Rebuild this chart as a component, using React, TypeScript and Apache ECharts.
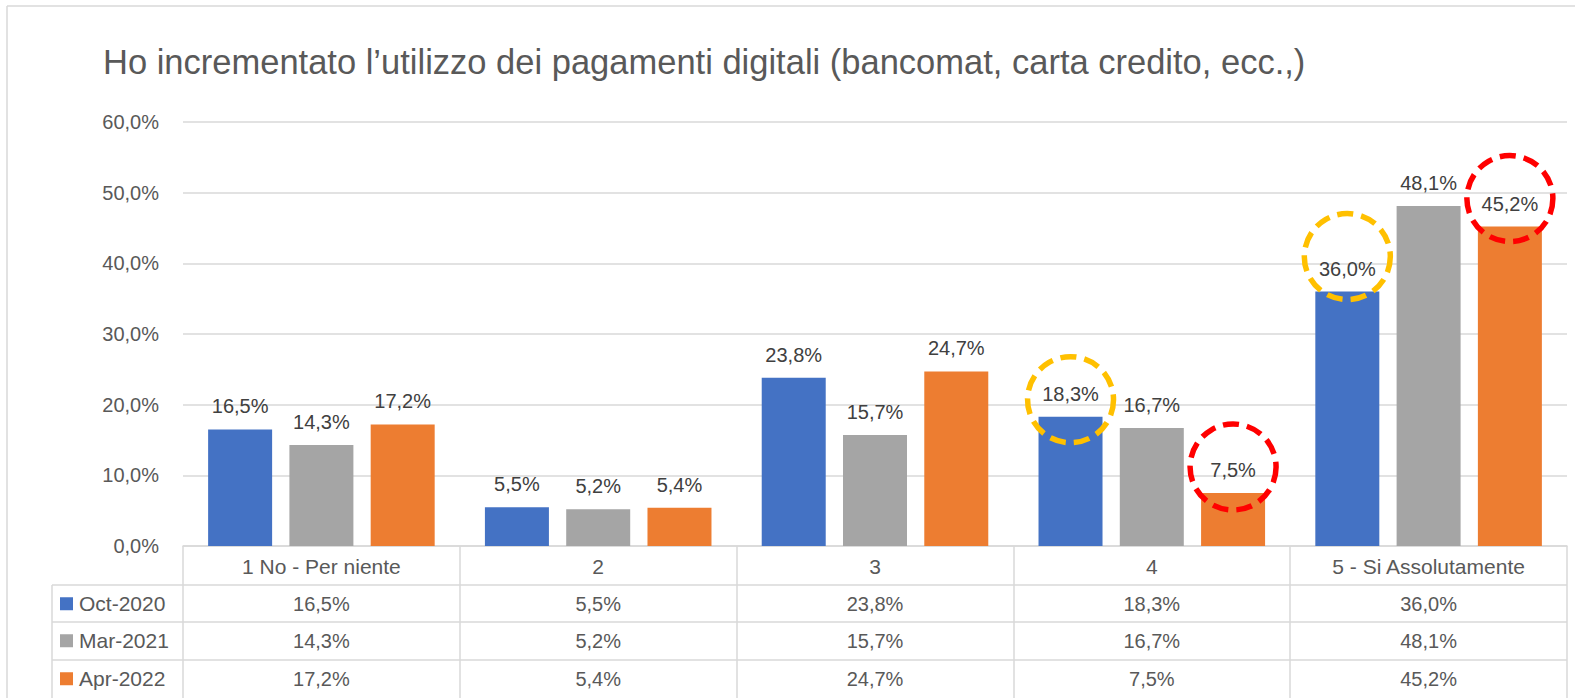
import React, { useEffect, useRef } from "react";
import * as echarts from "echarts";

const categories = ["1 No - Per niente", "2", "3", "4", "5 - Si Assolutamente"];
const seriesNames = ["Oct-2020", "Mar-2021", "Apr-2022"];
const oct2020 = [16.5, 5.5, 23.8, 18.3, 36.0];
const mar2021 = [14.3, 5.2, 15.7, 16.7, 48.1];
const apr2022 = [17.2, 5.4, 24.7, 7.5, 45.2];
const yTicks = [0, 10, 20, 30, 40, 50, 60];
const highlightYellow = ["4", "5 - Si Assolutamente"]; // Oct-2020
const highlightRed = ["4", "5 - Si Assolutamente"]; // Apr-2022

// pixel offsets of the hand-drawn circles above their bar tops (styling only)
const yellowOffsets = [-17, -35];
const redOffsets = [-26, -28];

const TITLE = "Ho incrementato l\u2019utilizzo dei pagamenti digitali (bancomat, carta credito, ecc.,)";
const colors = ["#4472C4", "#A5A5A5", "#ED7D31"];
const FONT = "'Liberation Sans', Arial, sans-serif";
const GRID_LEFT = 183;
const GRID_RIGHT = 8;
const GRID_TOP = 122;
const GRID_BOTTOM = 152;
const W = 1575;
const H = 698;
const LINE = "#D9D9D9";
const TXT = "#595959";

const fmt = (v: number) => v.toFixed(1).replace(".", ",") + "%";

export default function App() {
  const ref = useRef<HTMLDivElement>(null);
  useEffect(() => {
    if (!ref.current) return;
    const chart = echarts.init(ref.current, undefined, { renderer: "svg" });
    const values = [oct2020, mar2021, apr2022];
    const marks: (string[] | null)[] = [highlightYellow, null, highlightRed];
    const markOffsets: (number[] | null)[] = [yellowOffsets, null, redOffsets];
    const markColors = ["#FFC000", null, "#FF0000"];

    const series = values.map((vals, i) => {
      const m = marks[i];
      const s: any = {
        type: "bar",
        name: seriesNames[i],
        data: vals,
        barWidth: 64,
        barGap: "27%",
        itemStyle: { color: colors[i] },
        label: {
          show: true,
          position: "top",
          distance: 13,
          formatter: (p: any) => fmt(p.value),
          fontFamily: FONT,
          fontSize: 20,
          color: "#404040",
        },
      };
      if (m) {
        const offs = markOffsets[i] as number[];
        s.markPoint = {
          symbol: "circle",
          symbolSize: 86,
          silent: true,
          label: { show: false },
          itemStyle: {
            color: "rgba(0,0,0,0)",
            borderColor: markColors[i],
            borderWidth: 5.5,
            borderType: [16, 8],
          },
          data: m.map((c, k) => ({
            coord: [c, vals[categories.indexOf(c)]],
            symbolOffset: [0, offs[k]],
          })),
        };
      }
      return s;
    });

    chart.setOption({
      animation: false,
      backgroundColor: "#FFFFFF",
      title: {
        text: TITLE,
        left: 98,
        top: 39,
        textStyle: { fontFamily: FONT, fontSize: 34.5, fontWeight: "normal", color: TXT },
      },
      grid: { left: GRID_LEFT, right: GRID_RIGHT, top: GRID_TOP, bottom: GRID_BOTTOM, containLabel: false },
      xAxis: {
        type: "category",
        data: categories,
        axisLine: { show: true, lineStyle: { color: LINE, width: 1.5 } },
        axisTick: { show: true, length: GRID_BOTTOM, interval: 0, lineStyle: { color: LINE, width: 1.5 } },
        axisLabel: { margin: 10, fontFamily: FONT, fontSize: 21, color: TXT, interval: 0 },
      },
      yAxis: {
        type: "value",
        min: yTicks[0],
        max: yTicks[yTicks.length - 1],
        interval: yTicks[1] - yTicks[0],
        axisLine: { show: false },
        axisTick: { show: false },
        splitLine: { lineStyle: { color: LINE, width: 1.5 } },
        axisLabel: { formatter: (v: number) => fmt(v), margin: 24, fontFamily: FONT, fontSize: 20, color: TXT },
      },
      series,
    });

    const xs = categories.map((c) => chart.convertToPixel({ xAxisIndex: 0 }, c) as number);
    const rowTops = [585, 622, 660];
    const rowH = 37.5;
    const gridRightX = W - GRID_RIGHT;
    const g: any[] = [];
    g.push({ type: "line", shape: { x1: 7, y1: 6, x2: W, y2: 6 }, style: { stroke: LINE, lineWidth: 1.5 } });
    g.push({ type: "line", shape: { x1: 7, y1: 6, x2: 7, y2: H }, style: { stroke: LINE, lineWidth: 1.5 } });
    rowTops.forEach((y) => {
      g.push({ type: "line", shape: { x1: 52, y1: y, x2: gridRightX, y2: y }, style: { stroke: LINE, lineWidth: 1.5 } });
    });
    g.push({ type: "line", shape: { x1: 52, y1: rowTops[0], x2: 52, y2: H }, style: { stroke: LINE, lineWidth: 1.5 } });
    values.forEach((vals, i) => {
      const cy = rowTops[i] + rowH / 2;
      g.push({ type: "rect", shape: { x: 60, y: cy - 6.5, width: 13, height: 13 }, style: { fill: colors[i] } });
      g.push({
        type: "text",
        x: 79,
        y: cy,
        style: { text: seriesNames[i], fontFamily: FONT, fontSize: 21, fill: TXT, textAlign: "left", textVerticalAlign: "middle" },
      });
      vals.forEach((v, j) => {
        g.push({
          type: "text",
          x: xs[j],
          y: cy,
          style: { text: fmt(v), fontFamily: FONT, fontSize: 20, fill: TXT, textAlign: "center", textVerticalAlign: "middle" },
        });
      });
    });
    chart.setOption({ graphic: g });

    return () => chart.dispose();
  }, []);
  return <div ref={ref} style={{ position: "absolute", left: 0, top: 0, width: W, height: H }} />;
}
